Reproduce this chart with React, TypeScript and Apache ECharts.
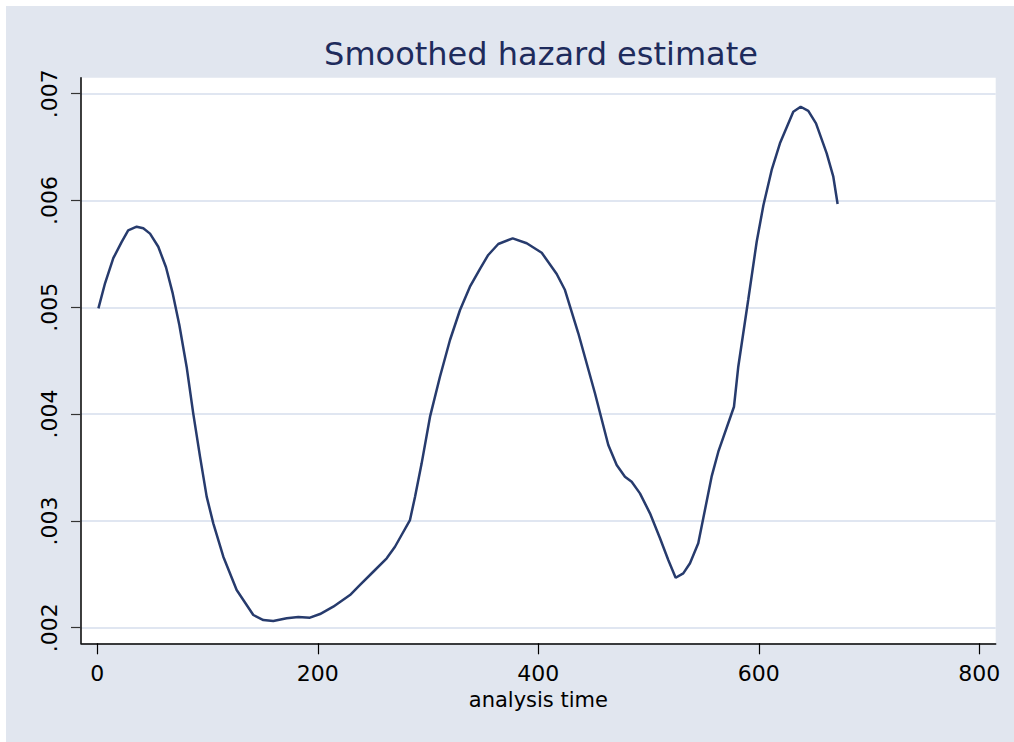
import React, { useEffect, useRef } from "react";
import * as echarts from "echarts";

const titleText = "Smoothed hazard estimate";
const xAxisName = "analysis time";
const xTicks = [0, 200, 400, 600, 800];
const yTicks = [0.002, 0.003, 0.004, 0.005, 0.006, 0.007];

const times = [
  1, 7, 14.5, 22, 28, 35.7, 41.7, 47.8, 55.3, 62.3, 68.4, 74.4, 81, 87, 93.2,
  99.2, 105.2, 114.3, 126.4, 141.5, 150.6, 159.6, 171.8, 182.3, 192.9, 202, 214,
  229.2, 238.3, 250.3, 262.5, 270, 276, 283.6, 288.2, 294.2, 301.8, 310.8, 319.9,
  329, 338, 347, 354.6, 363.7, 376.8, 389.5, 403.1, 416.7, 424.2, 436.3, 451.4,
  463.5, 471.1, 478.6, 484.7, 492.2, 501.3, 510.4, 517.9, 524.6, 531.5, 537.6,
  545.1, 557.2, 563.3, 577.5, 581.4, 590.5, 598.1, 604.2, 611.7, 619.2, 631.3,
  638, 644.9, 651.9, 661.6, 667.6, 671.5,
];

const hazard = [
  0.00499, 0.005225, 0.00546, 0.00561, 0.00572, 0.005755, 0.00574, 0.00569,
  0.005567, 0.005375, 0.00513, 0.004834, 0.004444, 0.004007, 0.0036, 0.003227,
  0.002977, 0.002665, 0.002353, 0.002119, 0.002072, 0.002063, 0.002088, 0.0021,
  0.002094, 0.002128, 0.002197, 0.002306, 0.0024, 0.002524, 0.00265, 0.002758,
  0.002868, 0.003008, 0.003227, 0.003539, 0.003976, 0.00435, 0.004694, 0.004975,
  0.005193, 0.005358, 0.00549, 0.005593, 0.005646, 0.0056, 0.005511, 0.005312,
  0.005162, 0.004757, 0.004195, 0.003711, 0.003523, 0.003414, 0.003367, 0.003258,
  0.003071, 0.002837, 0.002634, 0.002468, 0.002509, 0.002603, 0.00279, 0.003414,
  0.003648, 0.004069, 0.004444, 0.005075, 0.005614, 0.005955, 0.006286, 0.006536,
  0.006831, 0.006878, 0.00684, 0.006723, 0.006442, 0.006223, 0.005967,
];

const BG = "#e1e6ef";
const NAVY = "#273b6d";
const GRIDC = "#e0e6f1";
const FONT = "DejaVu Sans";

export default function App() {
  const ref = useRef<HTMLDivElement>(null);
  useEffect(() => {
    document.body.style.margin = "0";
    if (!ref.current) return;
    const chart = echarts.init(ref.current, null, { renderer: "svg" });
    const data = times.map((t, i) => [t, hazard[i]]);
    chart.setOption({
      animation: false,
      backgroundColor: "#ffffff",
      textStyle: { fontFamily: FONT },
      graphic: [
        {
          type: "rect",
          z: -10,
          silent: true,
          shape: { x: 6, y: 6, width: 1008, height: 736 },
          style: { fill: BG },
        },
      ],
      title: {
        text: titleText,
        left: 536,
        top: 33,
        textAlign: "center",
        textStyle: {
          fontFamily: FONT,
          fontSize: 32,
          fontWeight: "normal",
          color: "#1e2b5c",
        },
      },
      grid: {
        left: 81,
        top: 77.7,
        right: 18.3,
        bottom: 98.7,
        show: true,
        backgroundColor: "#ffffff",
        borderWidth: 0,
        containLabel: false,
      },
      xAxis: {
        type: "value",
        min: -14.8,
        max: 814.9,
        name: xAxisName,
        nameLocation: "middle",
        nameGap: 45,
        nameTextStyle: { fontFamily: FONT, fontSize: 21, color: "#000" },
        axisLine: { show: true, onZero: false, lineStyle: { color: "#000", width: 1.5 } },
        axisTick: {
          show: true,
          length: 11,
          customValues: xTicks,
          lineStyle: { color: "#000", width: 1.2 },
        },
        axisLabel: {
          customValues: xTicks,
          fontFamily: FONT,
          fontSize: 22,
          color: "#000",
          margin: 19,
        },
        splitLine: { show: false },
      },
      yAxis: {
        type: "value",
        min: 0.001854,
        max: 0.00715,
        axisLine: { show: true, onZero: false, lineStyle: { color: "#000", width: 1.5 } },
        axisTick: {
          show: true,
          length: 10,
          customValues: yTicks,
          lineStyle: { color: "#333", width: 1.2 },
        },
        axisLabel: {
          customValues: yTicks,
          rotate: 90,
          fontFamily: FONT,
          fontSize: 22,
          color: "#000",
          margin: 21,
          formatter: (v: number) => v.toFixed(3).replace(/^0/, ""),
        },
        splitLine: { show: true, lineStyle: { color: GRIDC, width: 2 } },
      },
      series: [
        {
          type: "line",
          data,
          showSymbol: false,
          symbol: "none",
          smooth: false,
          lineStyle: { color: NAVY, width: 2.5 },
          z: 3,
        },
      ],
    });
    return () => chart.dispose();
  }, []);
  return <div ref={ref} style={{ width: 1014, height: 742 }} />;
}
